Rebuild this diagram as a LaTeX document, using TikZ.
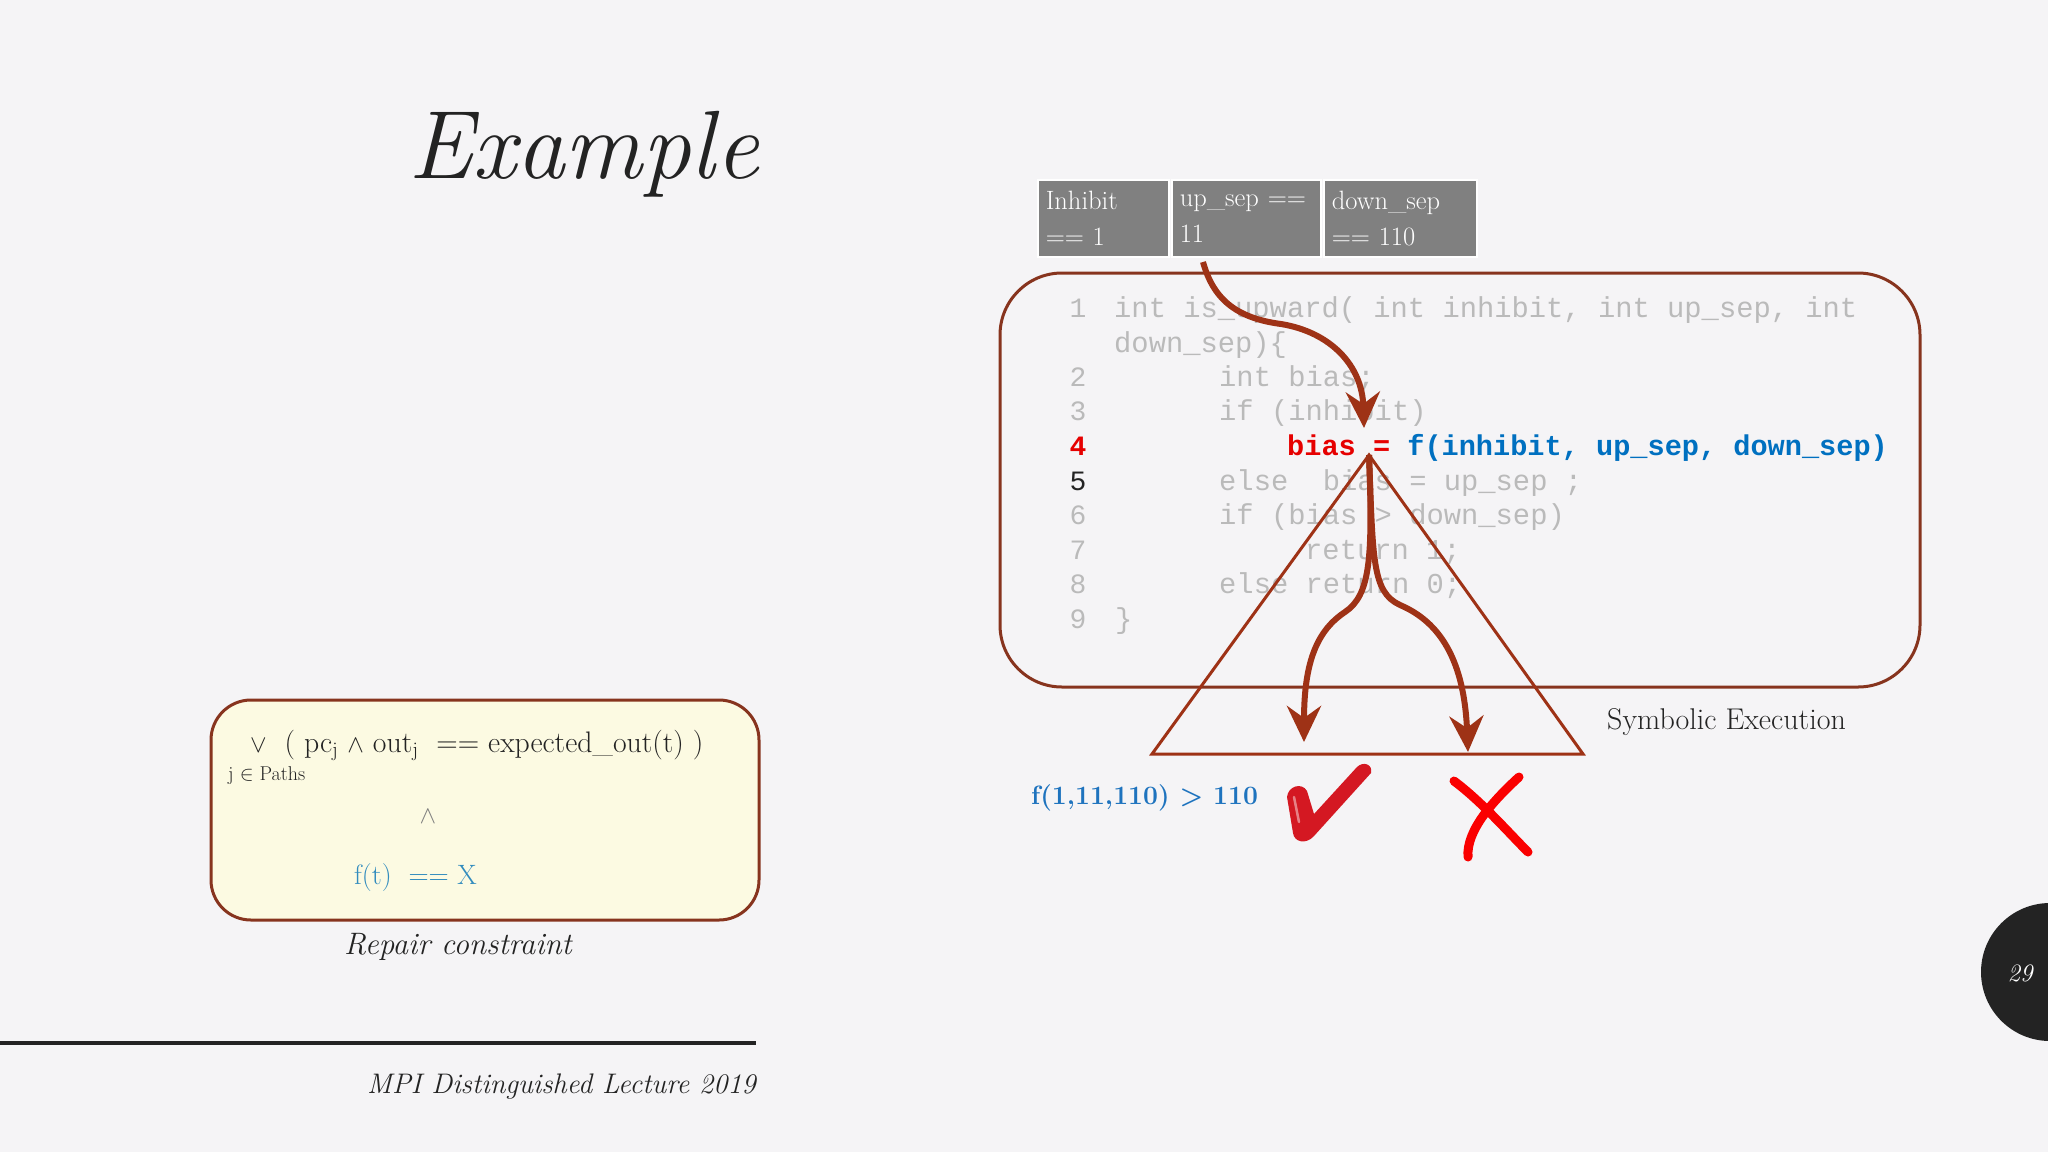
\documentclass[tikz,border=0pt]{standalone}
\usepackage{fontspec}
\setmonofont{Liberation Mono}
\usetikzlibrary{arrows.meta}
\definecolor{bg}{RGB}{245,244,246}
\definecolor{brn}{RGB}{158,50,22}
\definecolor{boxbrn}{RGB}{135,52,30}
\definecolor{codegray}{RGB}{186,186,186}
\definecolor{cellgray}{RGB}{128,128,128}
\definecolor{codered}{RGB}{230,0,0}
\definecolor{codeblue}{RGB}{0,112,192}
\definecolor{resblue}{RGB}{30,115,190}
\definecolor{tealblue}{RGB}{50,140,190}
\definecolor{yell}{RGB}{252,250,226}
\definecolor{ink}{RGB}{35,35,35}
\definecolor{chk}{RGB}{212,24,34}
\definecolor{xred}{RGB}{250,0,0}
\begin{document}
\begin{tikzpicture}[x=1pt,y=-1pt,
  codeline/.style={anchor=base west, inner sep=0, font=\fontsize{28.8}{28}\selectfont\ttfamily, text=codegray},
  lnum/.style={anchor=base, inner sep=0, font=\fontsize{28}{28}\selectfont\ttfamily, text=codegray},
  cellbox/.style={fill=cellgray, draw=white, line width=1.5, anchor=north west, inner xsep=8, inner ysep=0,
     minimum height=77, align=left, text=white, font=\fontsize{26.5}{36}\selectfont},
  brarrow/.style={draw=brn, line width=6, -{Stealth[length=36,width=34,inset=12]}},
  plain/.style={inner sep=0}]
% background
\fill[bg] (0,0) rectangle (2048,1152);
\useasboundingbox (0,0) rectangle (2048,1152);

% title
\node[plain, anchor=base west, text=ink, font=\fontsize{97}{97}\selectfont\itshape] (title) at (408,178) {Example};

% footer
\coordinate (fl0) at (0,1043);
\coordinate (fl1) at (756,1043);
\draw[ink, line width=4] (fl0) -- (fl1);
\node[plain, anchor=base east, text=ink, font=\fontsize{28.3}{28}\selectfont\itshape] (footer) at (756,1093) {MPI Distinguished Lecture 2019};

% page number
\fill[ink] (2050,972) circle (69);
\node[plain, text=white, font=\fontsize{25}{25}\selectfont\itshape] (pnum) at (2020,973) {29};

% table cells
\node[cellbox, text width=115] (c1) at (1037,179) {Inhibit\\== 1};
\node[cellbox, text width=133] (c2) at (1171,179) {\mbox{up\_sep ==}\\11};
\node[cellbox, text width=137] (c3) at (1323,179) {down\_sep\\== 110};

% code box
\node[draw=boxbrn, line width=3, rounded corners=62, minimum width=920, minimum height=414, inner sep=0] (codebox) at (1460,480) {};

% code lines
\node[lnum] (n1) at (1078,317) {1};
\node[codeline] (l1) at (1114,317) {int is\_upward( int inhibit, int up\_sep, int};
\node[codeline] (l1b) at (1114,352) {down\_sep)\{};
\node[lnum] (n2) at (1078,386) {2};
\node[codeline] (l2) at (1219,386) {int bias;};
\node[lnum] (n3) at (1078,420) {3};
\node[codeline] (l3) at (1219,420) {if (inhibit)};
\node[lnum, text=codered, font=\fontsize{28}{28}\selectfont\ttfamily\bfseries] (n4) at (1078,455) {4};
\node[codeline, font=\fontsize{28.6}{28}\selectfont\ttfamily\bfseries] (l4) at (1287,455) {\textcolor{codered}{bias =} \textcolor{codeblue}{f(inhibit, up\_sep, down\_sep)}};
\node[lnum, text=ink] (n5) at (1078,490) {5};
\node[codeline] (l5) at (1219,490) {else\ \ bias = up\_sep ;};
\node[lnum] (n6) at (1078,524) {6};
\node[codeline] (l6) at (1219,524) {if (bias > down\_sep)};
\node[lnum] (n7) at (1078,559) {7};
\node[codeline] (l7) at (1305,559) {return 1;};
\node[lnum] (n8) at (1078,593) {8};
\node[codeline] (l8) at (1219,593) {else return 0;};
\node[lnum] (n9) at (1078,628) {9};
\node[codeline] (l9) at (1115,628) {\}};

% triangle
\coordinate (apex) at (1369,455);
\coordinate (bl) at (1152,754);
\coordinate (br) at (1583,754);
\draw[brn, line width=3, line join=miter] (apex) -- (bl) -- (br) -- cycle;

% arrows
\coordinate (a1s) at (1203,262);
\coordinate (a1e) at (1364,428);
\coordinate (a2e) at (1304,742);
\coordinate (a3e) at (1468,752);
\draw[brarrow] (a1s) .. controls (1213,298) and (1235,318) .. (1281,324)
   .. controls (1330,332) and (1362,365) .. (a1e);
\draw[brarrow] (apex) .. controls (1373,560) and (1370,595) .. (1345,612)
   .. controls (1318,630) and (1304,660) .. (a2e);
\draw[brarrow] (apex) .. controls (1373,560) and (1372,592) .. (1400,605)
   .. controls (1440,622) and (1464,660) .. (a3e);

% labels
\node[plain, anchor=west, text=ink, font=\fontsize{30}{30}\selectfont] (symex) at (1607,722) {Symbolic Execution};
\node[plain, anchor=west, text=resblue, font=\fontsize{26.5}{28}\selectfont\bfseries] (res) at (1031,798) {f(1,11,110) > 110};

% check mark
\fill[chk] (1287,797) .. controls (1288,786) and (1302,782) .. (1307,791)
  -- (1314,814) -- (1357,767) .. controls (1363,761) and (1373,764) .. (1371,773)
  -- (1314,836) .. controls (1306,845) and (1294,842) .. (1293,833) -- cycle;
\draw[white, opacity=0.45, line width=2.5, line cap=round] (1294,797) -- (1299,822);

% cross
\draw[xred, line width=9, line cap=round] (1454,781) .. controls (1482,802) and (1506,830) .. (1528,852);
\draw[xred, line width=9, line cap=round] (1519,777) .. controls (1494,800) and (1466,830) .. (1468,857);

% repair constraint box
\node[draw=boxbrn, fill=yell, line width=3, rounded corners=40, minimum width=548, minimum height=220, inner sep=0] (rbox) at (485,810) {};
\node[plain, anchor=base west, text=ink, font=\fontsize{29.7}{30}\selectfont] (f1) at (250,752)
  {$\vee$\ \ ( pc$_{\mathrm{j}}$ $\wedge$ out$_{\mathrm{j}}$\ \ == expected\_out(t) )};
\node[plain, anchor=base west, text=ink, font=\fontsize{20}{20}\selectfont] (f1s) at (228,780) {j $\in$ Paths};
\node[plain, text=codegray!60!ink, font=\fontsize{26}{26}\selectfont] (andop) at (428,817) {$\wedge$};
\node[plain, anchor=base west, text=tealblue, font=\fontsize{28}{28}\selectfont] (f2) at (354,884) {f(t)\ \ == X};
\node[plain, text=ink, font=\fontsize{31}{31}\selectfont\itshape] (rlabel) at (458,947) {Repair constraint};
\end{tikzpicture}
\end{document}
